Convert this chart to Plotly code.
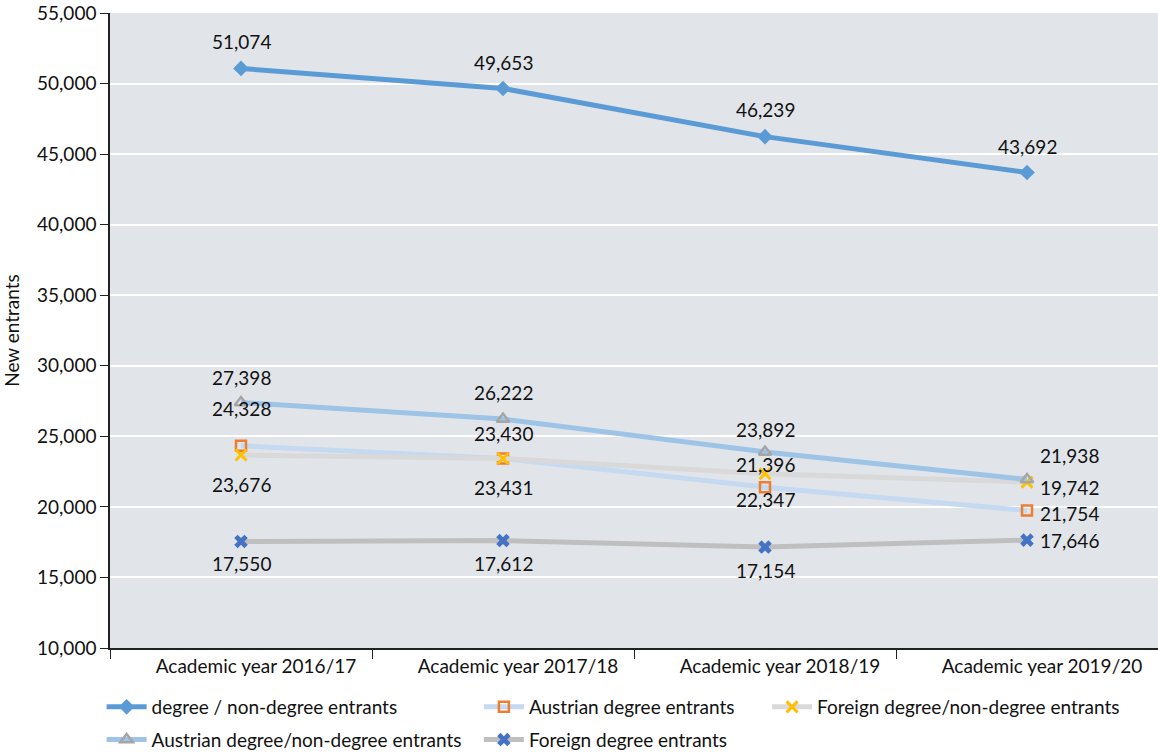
import plotly.graph_objects as go

# Academic years on the x axis
years = ["Academic year 2016/17", "Academic year 2017/18",
         "Academic year 2018/19", "Academic year 2019/20"]

# New entrants per group
degree_nondegree = [51074, 49653, 46239, 43692]
austrian_degree = [24328, 23430, 21396, 19742]
foreign_degree_nondegree = [23676, 23431, 22347, 21754]
austrian_degree_nondegree = [27398, 26222, 23892, 21938]
foreign_degree = [17550, 17612, 17154, 17646]

y_ticks = [10000, 15000, 20000, 25000, 30000, 35000, 40000, 45000, 50000, 55000]

FONT = "Liberation Sans Narrow, Lato, sans-serif"
TEXT_COLOR = "#111111"

def fmt(v):
    return f"{v:,}"

fig = go.Figure()

def add_series(name, values, line_color, marker, legend, group, xshifts, yshifts):
    fig.add_trace(go.Scatter(
        x=years, y=values, name=name, mode="lines+markers",
        line=dict(color=line_color, width=5),
        marker=marker,
        legend=legend, legendgroup=group,
        cliponaxis=False,
    ))
    # value labels next to each point
    for x, v, dx, dy in zip(years, values, xshifts, yshifts):
        fig.add_annotation(
            x=x, y=v, text=fmt(v), showarrow=False,
            xshift=dx, yshift=dy,
            font=dict(family=FONT, size=19, color=TEXT_COLOR),
        )

add_series("degree / non-degree entrants", degree_nondegree, "#5B9BD5",
           dict(symbol="diamond", size=12, color="#5B9BD5"), "legend", "g1",
           [0, 0, 0, 0], [27, 26, 27, 26])
add_series("Austrian degree entrants", austrian_degree, "#C5D9F1",
           dict(symbol="square-open", size=10, color="#ED7D31",
                line=dict(width=2.5, color="#ED7D31")), "legend2", "g2",
           [0, 0, 0, 42], [37, 25, 23, 23])
add_series("Foreign degree/non-degree entrants", foreign_degree_nondegree, "#D9D9D9",
           dict(symbol="x-thin-open", size=11, color="#FFC000",
                line=dict(width=3, color="#FFC000")), "legend3", "g3",
           [0, 0, 0, 42], [-29, -29, -26, -31])
add_series("Austrian degree/non-degree entrants", austrian_degree_nondegree, "#9DC3E6",
           dict(symbol="triangle-up-open", size=11, color="#A5A5A5",
                line=dict(width=2.5, color="#A5A5A5")), "legend", "g4",
           [0, 0, 0, 42], [25, 27, 22, 24])
add_series("Foreign degree entrants", foreign_degree, "#BFBFBF",
           dict(symbol="x", size=12, color="#4472C4",
                line=dict(width=0)), "legend2", "g5",
           [0, 0, 0, 42], [-22, -23, -23, 0])

legend_common = dict(orientation="v", yanchor="top", xanchor="left",
                     font=dict(family=FONT, size=19, color=TEXT_COLOR),
                     bgcolor="rgba(0,0,0,0)", tracegroupgap=5,
                     itemwidth=40)

fig.update_layout(
    width=1158, height=753,
    margin=dict(l=110, r=0, t=13, b=105, autoexpand=False),
    paper_bgcolor="white",
    plot_bgcolor="#E1E5EA",
    font=dict(family=FONT, size=18, color=TEXT_COLOR),
    showlegend=True,
    legend=dict(**legend_common, x=-0.008, y=-0.063),
    legend2=dict(**legend_common, x=0.352, y=-0.063),
    legend3=dict(**legend_common, x=0.627, y=-0.063),
    xaxis=dict(
        type="category", range=[-0.5, 3.5],
        showline=True, linecolor="#222222", linewidth=1.5,
        ticks="outside", tickson="boundaries", ticklen=9, tickcolor="#222222",
        ticklabelshift=15,
        showgrid=False, tickfont=dict(family=FONT, size=19, color=TEXT_COLOR),
        fixedrange=True,
    ),
    yaxis=dict(
        range=[10000, 55000], tickvals=y_ticks,
        ticktext=[fmt(v) for v in y_ticks],
        showline=True, linecolor="#222222", linewidth=1.5,
        ticks="outside", ticklen=8, tickcolor="#222222",
        gridcolor="white", gridwidth=2, zeroline=False,
        tickfont=dict(family=FONT, size=19, color=TEXT_COLOR),
        title=dict(text="New entrants", font=dict(family=FONT, size=19, color=TEXT_COLOR),
                   standoff=12),
    ),
)

fig.write_html("out.html")
